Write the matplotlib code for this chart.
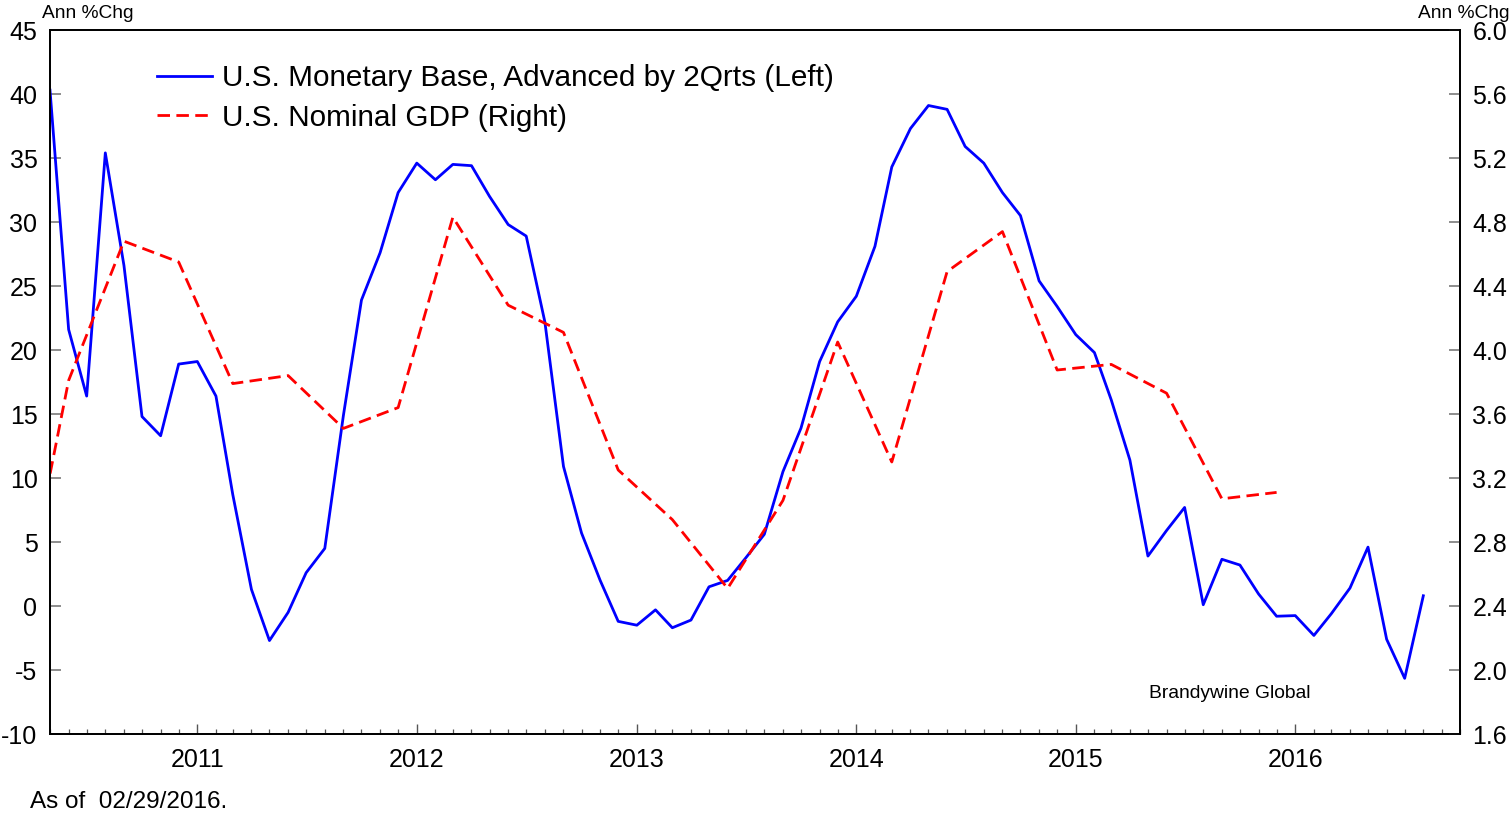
import matplotlib
matplotlib.use("Agg")
import matplotlib.pyplot as plt
import matplotlib.dates as mdates
import pandas as pd

plt.rcParams['font.family'] = ['Liberation Sans', 'DejaVu Sans']

# monthly monetary base, advanced by 2 quarters (left axis), May 2010 - Aug 2016
base_start = '2010-05-01'
monetary_base = [
    40.3, 21.6, 16.4, 35.4, 26.6, 14.8, 13.3, 18.9,
    19.1, 16.4, 8.7, 1.3, -2.7, -0.5, 2.6, 4.5, 14.9, 23.9, 27.6, 32.3,
    34.6, 33.3, 34.5, 34.4, 32.0, 29.8, 28.9, 22.2, 10.9, 5.7, 2.0, -1.2,
    -1.5, -0.3, -1.7, -1.1, 1.5, 2.0, 3.75, 5.6, 10.5, 13.9, 19.1, 22.2,
    24.2, 28.1, 34.3, 37.3, 39.1, 38.8, 35.9, 34.6, 32.3, 30.5, 25.4, 23.4,
    21.2, 19.8, 16.1, 11.4, 3.9, 5.9, 7.7, 0.1, 3.65, 3.2, 0.94, -0.8,
    -0.75, -2.3, -0.6, 1.4, 4.6, -2.6, -5.65, 0.8,
]

# quarterly nominal GDP (right axis), Mar 2010 - Dec 2015
gdp_start = '2010-03-01'
nominal_gdp = [
    2.07, 3.81, 4.68, 4.55,
    3.79, 3.84, 3.51, 3.64,
    4.83, 4.28, 4.11, 3.25,
    2.94, 2.51, 3.06, 4.05,
    3.30, 4.49, 4.74, 3.875,
    3.91, 3.73, 3.07, 3.11,
]

left_ticks = [-10, -5, 0, 5, 10, 15, 20, 25, 30, 35, 40, 45]
right_ticks = [1.6, 2.0, 2.4, 2.8, 3.2, 3.6, 4.0, 4.4, 4.8, 5.2, 5.6, 6.0]

base_dates = pd.date_range(base_start, periods=len(monetary_base), freq='MS')
gdp_dates = pd.date_range(gdp_start, periods=len(nominal_gdp), freq='3MS')

fig = plt.figure(figsize=(15.12, 8.15), dpi=100)
ax = fig.add_axes([50 / 1512, 1 - 734 / 815, 1410 / 1512, 704 / 815])
ax2 = ax.twinx()

l1, = ax.plot(base_dates, monetary_base, color='#0000ff', lw=2.0,
              label='U.S. Monetary Base, Advanced by 2Qrts (Left)')
l2, = ax2.plot(gdp_dates, nominal_gdp, color='#ff0000', lw=2.0,
               dashes=(4.5, 2.3),
               label='U.S. Nominal GDP (Right)')

ax.set_xlim(pd.Timestamp('2010-05-01'), pd.Timestamp('2016-10-01'))
ax.set_ylim(-10, 45)
ax2.set_ylim(1.6, 6.0)
ax.set_yticks(left_ticks)
ax.set_yticklabels([str(t) for t in left_ticks])
ax2.set_yticks(right_ticks)
ax2.set_yticklabels([f'{t:.1f}' for t in right_ticks])

ax.xaxis.set_major_locator(mdates.YearLocator())
ax.xaxis.set_major_formatter(mdates.DateFormatter('%Y'))
ax.xaxis.set_minor_locator(mdates.MonthLocator())

for a in (ax, ax2):
    for s in a.spines.values():
        s.set_linewidth(1.3)
        s.set_color('black')

ax.tick_params(axis='y', direction='in', length=8, width=1.2, color='#7a7a7a',
               labelsize=18, pad=9)
ax2.tick_params(axis='y', direction='in', length=8, width=1.2, color='#7a7a7a',
                labelsize=18, pad=9)
ax.tick_params(axis='x', which='major', direction='in', length=7, width=1.0,
               color='#555555', labelsize=18, pad=10)
ax.tick_params(axis='x', which='minor', direction='in', length=3.8, width=0.9,
               color='#555555')

ax.legend(handles=[l1, l2], loc='upper left', frameon=False,
          bbox_to_anchor=((157 - 50) / 1410, (734 - 64) / 704),
          borderpad=0, borderaxespad=0, fontsize=21.4, handlelength=1.85,
          handletextpad=0.33, labelspacing=0.4)

fig.text(42 / 1512, 1 - 13 / 815, 'Ann %Chg', fontsize=13.8, va='center', ha='left')
fig.text(1510 / 1512, 1 - 13 / 815, 'Ann %Chg', fontsize=13.8, va='center', ha='right')
ax.text((1230 - 50) / 1410, (734 - 694) / 704, 'Brandywine Global', fontsize=13.9,
        ha='center', va='center', transform=ax.transAxes)
fig.text(30 / 1512, 1 - 802 / 815, 'As of  02/29/2016.', fontsize=17.5,
         ha='left', va='center')

fig.savefig('out.png', dpi=100)
